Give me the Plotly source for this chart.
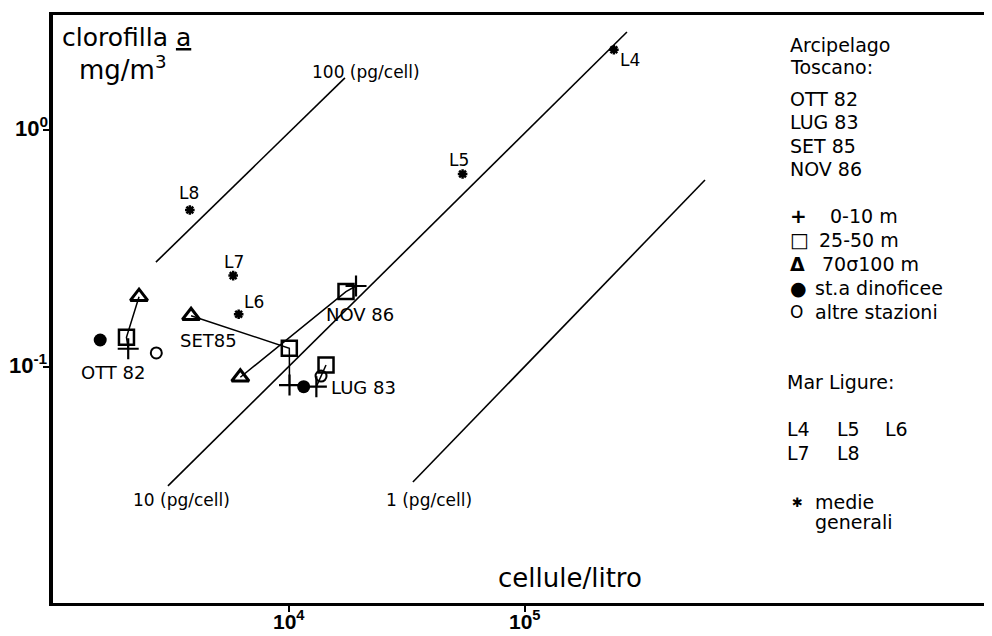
import math
import plotly.graph_objects as go

# ---------------- data ----------------
# Arcipelago Toscano campaigns
groups = ["OTT 82", "LUG 83", "SET85", "NOV 86"]
plus_x = [2083, 13060, 10050, 19230]      # 0-10 m
plus_y = [0.1194, 0.0826, 0.0839, 0.2197]
square_x = [2048, 14350, 10030, 17440]    # 25-50 m
square_y = [0.1334, 0.1019, 0.120, 0.208]
tri_x = [2315, None, 3846, 6220]          # 70-100 m
tri_y = [0.198, None, 0.1645, 0.0905]
dino_x = [1585, 11540]                    # st.a dinoficee
dino_y = [0.130, 0.0826]
altre_x = [2740, 13670]                   # altre stazioni
altre_y = [0.1146, 0.0916]

# Mar Ligure: medie generali
ligure_names = ["L4", "L5", "L6", "L7", "L8"]
ligure_x = [238000, 54400, 6120, 5800, 3800]
ligure_y = [2.18, 0.652, 0.167, 0.243, 0.46]

# reference lines of constant chlorophyll per cell
ref_names = ["100 (pg/cell)", "10 (pg/cell)", "1 (pg/cell)"]
ref_x = [[2730, 17260], [3070, 270400], [33500, 579000]]
ref_y = [[0.277, 1.66], [0.0315, 2.59], [0.0327, 0.615]]

x_tickvals = [1e4, 1e5]
x_ticktext = ["<b>10<sup>4</sup></b>", "<b>10<sup>5</sup></b>"]
y_tickvals = [1.0, 0.1]
y_ticktext = ["<b>10<sup>0</sup></b>", "<b>10<sup>-1</sup></b>"]

# ---------------- layout geometry ----------------
OFF = 8                      # page body margin of the browser
W, H = 992 - OFF, 636 - OFF
ML, MT = 53 - OFF, 15 - OFF
MB = H - (603 - OFF)
MR = 0
PW, PH = W - ML - MR, H - MT - MB
FONT = "DejaVu Sans"
TICKFONT = "Liberation Sans, Arial, sans-serif"


def px(x):
    return (x - OFF - ML) / PW


def py(y):
    return 1 - (y - OFF - MT) / PH


fig = go.Figure()

# reference lines
for xs, ys in zip(ref_x, ref_y):
    fig.add_trace(go.Scatter(x=xs, y=ys, mode="lines",
                             line=dict(color="black", width=1.6),
                             hoverinfo="skip", showlegend=False))

# connecting lines inside each campaign (triangle -> square -> plus)
for i in range(len(groups)):
    lx, ly = [], []
    if tri_x[i] is not None:
        lx.append(tri_x[i]); ly.append(tri_y[i])
    lx += [square_x[i], plus_x[i]]
    ly += [square_y[i], plus_y[i]]
    fig.add_trace(go.Scatter(x=lx, y=ly, mode="lines",
                             line=dict(color="black", width=1.5),
                             hoverinfo="skip", showlegend=False))

tx = [v for v in tri_x if v is not None]
ty = [v for v in tri_y if v is not None]

fig.add_trace(go.Scatter(x=tx, y=ty, mode="markers", showlegend=False,
                         marker=dict(symbol="triangle-up-open", size=15,
                                     color="black", line=dict(width=3, color="black"))))
fig.add_trace(go.Scatter(x=square_x, y=square_y, mode="markers", showlegend=False,
                         marker=dict(symbol="square-open", size=15,
                                     color="black", line=dict(width=2.5, color="black"))))
fig.add_trace(go.Scatter(x=plus_x, y=plus_y, mode="markers", showlegend=False,
                         marker=dict(symbol="cross-thin-open", size=15,
                                     color="black", line=dict(width=2.2, color="black"))))
fig.add_trace(go.Scatter(x=dino_x, y=dino_y, mode="markers", showlegend=False,
                         marker=dict(symbol="circle", size=13, color="black")))
fig.add_trace(go.Scatter(x=altre_x, y=altre_y, mode="markers", showlegend=False,
                         marker=dict(symbol="circle-open", size=11,
                                     color="black", line=dict(width=2, color="black"))))
fig.add_trace(go.Scatter(x=ligure_x, y=ligure_y, mode="markers", showlegend=False,
                         marker=dict(symbol="asterisk-open", size=8,
                                     color="black", line=dict(width=2.5, color="black"))))

ann = []


def text(x, y, s, size=19, xanchor="left", bold=False):
    if bold:
        s = "<b>" + s + "</b>"
    ann.append(dict(x=px(x), y=py(y), xref="paper", yref="paper", text=s,
                    showarrow=False, xanchor=xanchor, yanchor="middle",
                    font=dict(family=FONT, size=size, color="black")))


def dtext(xv, yv, s, dx, dy, size=17):
    ann.append(dict(x=math.log10(xv), y=math.log10(yv), xref="x", yref="y", text=s,
                    showarrow=False, xanchor="center", yanchor="middle",
                    xshift=dx, yshift=dy,
                    font=dict(family=FONT, size=size, color="black")))


# y tick labels placed beside the ticks
for v, t in zip(y_tickvals, y_ticktext):
    ann.append(dict(x=0, y=math.log10(v), xref="paper", yref="y", text=t,
                    showarrow=False, xanchor="right", yanchor="middle",
                    xshift=-3, yshift=3,
                    font=dict(family=TICKFONT, size=22, color="black")))

# x tick labels placed under the ticks
for v, t in zip(x_tickvals, x_ticktext):
    ann.append(dict(x=math.log10(v), y=0, xref="x", yref="paper", text=t,
                    showarrow=False, xanchor="center", yanchor="top",
                    yshift=-2,
                    font=dict(family=TICKFONT, size=21, color="black")))

# axis titles
text(60, 37, "clorofilla <u>a</u>", size=25)
text(77, 68, "mg/m<sup>3</sup>", size=26)
text(496, 578, "cellule/litro", size=26)

# reference line labels
text(366, 72, ref_names[0], size=17, xanchor="center")
text(181, 500, ref_names[1], size=17, xanchor="center")
text(429, 500, ref_names[2], size=17, xanchor="center")

# campaign labels
text(113, 372, groups[0], size=18, xanchor="center")
text(363, 387, groups[1], size=18, xanchor="center")
text(208, 341, groups[2], size=18, xanchor="center")
text(360, 314, groups[3], size=18, xanchor="center")

# Mar Ligure point labels
lig_off = [(16, -10), (-4, 14), (15, 12), (1, 14), (-1, 17)]
for n, xv, yv, (dx, dy) in zip(ligure_names, ligure_x, ligure_y, lig_off):
    dtext(xv, yv, n, dx, dy)

# key on the right
LX = 788
text(LX, 45, "Arcipelago", size=19)
text(LX, 67, "Toscano:", size=19)
text(LX, 99, "OTT 82", size=19)
text(LX, 122, "LUG 83", size=19)
text(LX, 146, "SET 85", size=19)
text(LX, 169, "NOV 86", size=19)
text(LX, 216, "<b>+</b>", size=20)
text(828, 216, "0-10 m", size=19)
text(LX, 240, "<b>□</b>", size=20)
text(817, 240, "25-50 m", size=19)
text(LX, 264, "<b>Δ</b>", size=19)
text(820, 264, "70σ100 m", size=19)
text(LX, 288, "●", size=19)
text(813, 288, "st.a dinoficee", size=19)
text(LX, 312, "O", size=17)
text(813, 312, "altre stazioni", size=19)

text(785, 382, "Mar Ligure:", size=19)
text(785, 429, "L4", size=19)
text(835, 429, "L5", size=19)
text(883, 429, "L6", size=19)
text(785, 453, "L7", size=19)
text(835, 453, "L8", size=19)
text(790, 502, "<b>✱</b>", size=13)
text(813, 502, "medie", size=19)
text(813, 522, "generali", size=19)

xr = [3.0, 3.0 + PW / 236.0]
yr = [-(603 - 130) / 237.0, (130 - 15) / 237.0]

fig.update_layout(
    width=W, height=H,
    margin=dict(l=ML, r=MR, t=MT, b=MB, autoexpand=False),
    paper_bgcolor="white", plot_bgcolor="white",
    showlegend=False,
    annotations=ann,
    xaxis=dict(type="log", range=xr, showgrid=False, zeroline=False,
               showline=True, linecolor="black", linewidth=3, mirror=True,
               ticks="outside", ticklen=6, tickwidth=2, tickcolor="black",
               tickvals=x_tickvals, showticklabels=False),
    yaxis=dict(type="log", range=yr, showgrid=False, zeroline=False,
               showline=True, linecolor="black", linewidth=3.5,
               ticks="outside", ticklen=6, tickwidth=2, tickcolor="black",
               tickvals=y_tickvals, showticklabels=False),
)

fig.write_html("out.html")
